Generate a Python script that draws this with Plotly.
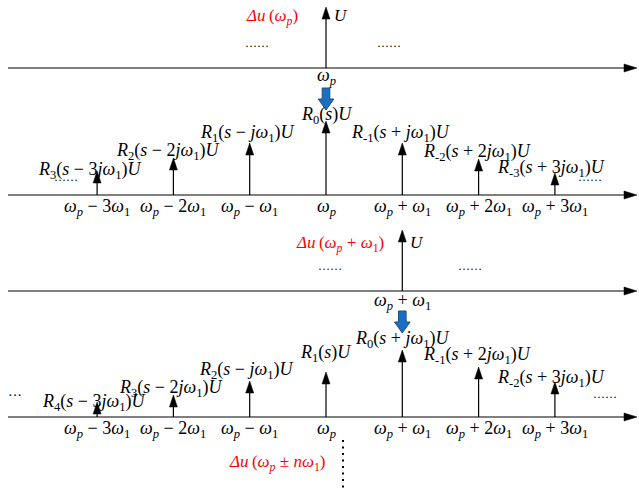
import plotly.graph_objects as go

# ---------------------------------------------------------------- data
HARMONICS = [-3, -2, -1, 0, 1, 2, 3]          # spectral line index k (ωp + kω1)

# single-tone excitations (line index, amplitude)
EXCITE_A = (0, 61)      # Δu(ωp)
EXCITE_B = (1, 61)      # Δu(ωp + ω1)

# response spectra (amplitudes)
RESP_A = [24, 37, 52, 74, 52, 36, 22]
RESP_B = [15, 22, 36, 45, 67, 50, 35]

def R(idx, arg):
    return f"<i>R</i><sub>{idx}</sub>({arg})<i>U</i>"

S = "<i>s</i>"
W1 = "<i>ω</i><sub>1</sub>"
WP = "<i>ω</i><sub><i>p</i></sub>"

LABELS_A = [R("3", f"{S} − 3<i>j</i>{W1}"), R("2", f"{S} − 2<i>j</i>{W1}"),
            R("1", f"{S} − <i>j</i>{W1}"), R("0", S),
            R("-1", f"{S} + <i>j</i>{W1}"), R("-2", f"{S} + 2<i>j</i>{W1}"),
            R("-3", f"{S} + 3<i>j</i>{W1}")]
LABELS_B = [R("4", f"{S} − 3<i>j</i>{W1}"), R("3", f"{S} − 2<i>j</i>{W1}"),
            R("2", f"{S} − <i>j</i>{W1}"), R("1", S),
            R("0", f"{S} + <i>j</i>{W1}"), R("-1", f"{S} + 2<i>j</i>{W1}"),
            R("-2", f"{S} + 3<i>j</i>{W1}")]

TICKS = [f"{WP} − 3{W1}", f"{WP} − 2{W1}", f"{WP} − {W1}", WP,
         f"{WP} + {W1}", f"{WP} + 2{W1}", f"{WP} + 3{W1}"]

EXC_LABEL_A = "<i>Δu</i>\u2009(" + WP + ")"
EXC_LABEL_B = "<i>Δu</i>\u2009(" + WP + " + " + W1 + ")"
EXC_LABEL_N = "<i>Δu</i>\u2009(" + WP + " ± <i>n</i>" + W1 + ")"

# ---------------------------------------------------------------- layout
FIG_W, FIG_H = 639, 493
K0_PX, DK_PX = 326.0, 76.3                 # pixel position of ωp, spacing of ω1
BASE = [68, 195, 291, 417]                  # baselines of the four rows (px from top)

def kx(px):
    return (px - K0_PX) / DK_PX

# label offsets (dx, dy) in px relative to arrow tips
OFF_A = [(-7, 1), (-5, 7), (-2, 10), (0, 6), (-2, 10), (-2, 7), (-4, 5)]
OFF_B = [(-3, 0), (-2, 7), (-3, 11), (-1, 19), (0, 11), (-2, 12), (-4, 4)]

FONT = "Liberation Serif"
LBL_SIZE = 18
TICK_SIZE = 18
RED_SIZE = 17
HEAD_L, HEAD_HW = 12, 4.0

fig = go.Figure()
ann = []

def add_axis(base):
    fig.add_trace(go.Scatter(x=[kx(8), kx(626)], y=[base, base], mode="lines",
                             line=dict(color="black", width=1.2),
                             hoverinfo="skip", showlegend=False))
    fig.add_trace(go.Scatter(x=[kx(637), kx(624), kx(624), kx(637)],
                             y=[base, base - 4, base + 4, base],
                             fill="toself", fillcolor="black", mode="lines",
                             line=dict(color="black", width=0.5),
                             hoverinfo="skip", showlegend=False))

def add_lines(ks, amps, base):
    sx, sy, hx, hy = [], [], [], []
    for k, a in zip(ks, amps):
        tip = base - a
        sx += [k, k, None]
        sy += [base, tip + HEAD_L - 1, None]
        hw = HEAD_HW / DK_PX
        hx += [k, k - hw, k + hw, k, None]
        hy += [tip, tip + HEAD_L, tip + HEAD_L, tip, None]
    fig.add_trace(go.Scatter(x=sx, y=sy, mode="lines",
                             line=dict(color="black", width=1.2),
                             hoverinfo="skip", showlegend=False))
    fig.add_trace(go.Scatter(x=hx, y=hy, mode="lines", fill="toself",
                             fillcolor="black", line=dict(color="black", width=0.5),
                             hoverinfo="skip", showlegend=False))

def text(x, y, s, size=LBL_SIZE, color="black", xshift=0, yshift=0, xanchor="center"):
    ann.append(dict(x=x, y=y, text=s, showarrow=False, xref="x", yref="y",
                    font=dict(family=FONT, size=size, color=color),
                    xanchor=xanchor, yanchor="middle", xshift=xshift, yshift=yshift))

def block_arrow(k, base):
    hw_s, hw_h = 3.8 / DK_PX, 7.8 / DK_PX
    top, neck, tip = base + 20, base + 31, base + 42
    xs = [k - hw_s, k + hw_s, k + hw_s, k + hw_h, k, k - hw_h, k - hw_s, k - hw_s]
    ys = [top, top, neck, neck, tip, neck, neck, top]
    fig.add_trace(go.Scatter(x=xs, y=ys, mode="lines", fill="toself",
                             fillcolor="#1b6fc2", line=dict(color="#1f4e79", width=1),
                             hoverinfo="skip", showlegend=False))

# row 1 : excitation Δu(ωp)
add_axis(BASE[0])
add_lines([EXCITE_A[0]], [EXCITE_A[1]], BASE[0])
tipA = BASE[0] - EXCITE_A[1]
text(EXCITE_A[0], tipA, "<i>U</i>", size=17, xshift=15, yshift=-8)
text(EXCITE_A[0], tipA, EXC_LABEL_A, size=RED_SIZE, color="#ff0000", xshift=-54, yshift=-10)
text(kx(257), 43, "……", size=12)
text(kx(389), 43, "……", size=12)
text(EXCITE_A[0], BASE[0] + 8, WP, size=TICK_SIZE)
block_arrow(EXCITE_A[0], BASE[0])

# row 2 : response to Δu(ωp)
add_axis(BASE[1])
add_lines(HARMONICS, RESP_A, BASE[1])
for k, a, lab, (dx, dy) in zip(HARMONICS, RESP_A, LABELS_A, OFF_A):
    text(k, BASE[1] - a, lab, xshift=dx, yshift=dy)
for k, t in zip(HARMONICS, TICKS):
    text(k, BASE[1] + 12, t, size=TICK_SIZE)
text(kx(66), 177, "……", size=12)
text(kx(590), 177, "……", size=12)

# row 3 : excitation Δu(ωp + ω1)
add_axis(BASE[2])
add_lines([EXCITE_B[0]], [EXCITE_B[1]], BASE[2])
tipB = BASE[2] - EXCITE_B[1]
text(EXCITE_B[0], tipB, "<i>U</i>", size=17, xshift=15, yshift=-12)
text(EXCITE_B[0], tipB, EXC_LABEL_B, size=RED_SIZE, color="#ff0000", xshift=-62, yshift=-14)
text(kx(330), 266, "……", size=12)
text(kx(470), 266, "……", size=12)
text(EXCITE_B[0], BASE[2] + 10, TICKS[4], size=TICK_SIZE)
block_arrow(EXCITE_B[0], BASE[2])

# row 4 : response to Δu(ωp + ω1)
add_axis(BASE[3])
add_lines(HARMONICS, RESP_B, BASE[3])
for k, a, lab, (dx, dy) in zip(HARMONICS, RESP_B, LABELS_B, OFF_B):
    text(k, BASE[3] - a, lab, xshift=dx, yshift=dy)
for k, t in zip(HARMONICS, TICKS):
    text(k, BASE[3] + 12, t, size=TICK_SIZE)
text(kx(15), 391, "…", size=14)
text(kx(605), 394, "……", size=12)

# continuation: Δu(ωp ± nω1)
text(kx(277), 463, EXC_LABEL_N, size=RED_SIZE, color="#ff0000")
fig.add_trace(go.Scatter(x=[kx(343), kx(343)], y=[440, 492], mode="lines",
                         line=dict(color="black", width=2, dash="2px,4.5px"),
                         hoverinfo="skip", showlegend=False))

fig.update_layout(
    width=FIG_W, height=FIG_H, margin=dict(l=0, r=0, t=0, b=0),
    paper_bgcolor="white", plot_bgcolor="white", showlegend=False,
    font=dict(family=FONT),
    annotations=ann,
    xaxis=dict(range=[kx(0), kx(FIG_W)], visible=False, fixedrange=True),
    yaxis=dict(range=[FIG_H, 0], visible=False, fixedrange=True),
)

fig.write_html("out.html")
